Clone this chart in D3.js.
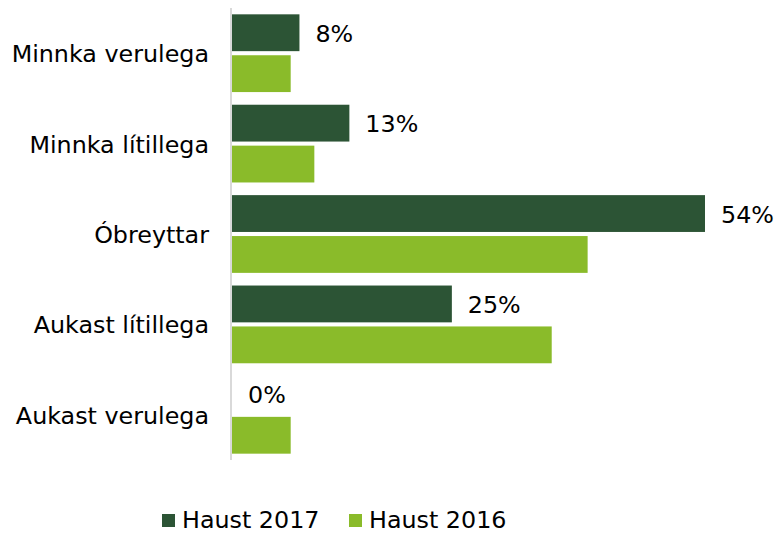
<!DOCTYPE html>
<html>
<head>
<meta charset="utf-8">
<script src="https://cdn.jsdelivr.net/npm/d3@7/dist/d3.min.js"></script>
<style>
  html, body { margin: 0; padding: 0; background: #fff; overflow: hidden; }
  svg { display: block; }
  text { font-family: "DejaVu Sans", Verdana, sans-serif; fill: #000; }
</style>
</head>
<body>
<svg id="chart" width="781" height="533"></svg>
<script>
const categories = ["Minnka verulega", "Minnka lítillega", "Óbreyttar", "Aukast lítillega", "Aukast verulega"];
const seriesNames = ["Haust 2017", "Haust 2016"];
const values2017 = [7.7, 13.4, 54, 25.1, 0];
const values2016 = [6.7, 9.4, 40.6, 36.5, 6.7];
const labels2017 = ["8%", "13%", "54%", "25%", "0%"];
const colors = ["#2c5435", "#8abb2a"];

const svg = d3.select("#chart");
const fontSize = 23.8;

const y = d3.scaleBand().domain(categories).range([8, 460]).paddingInner(0.14).paddingOuter(0.07);
const ySub = d3.scaleBand().domain(seriesNames).range([0, y.bandwidth()]).paddingInner(0.1);
const x = d3.scaleLinear().domain([0, 54]).range([232, 705]);

const seriesData = [values2017, values2016];

categories.forEach((c, i) => {
  seriesNames.forEach((s, j) => {
    const v = seriesData[j][i];
    if (v > 0) {
      svg.append("rect")
        .attr("x", x(0))
        .attr("y", y(c) + ySub(s))
        .attr("width", x(v) - x(0))
        .attr("height", ySub.bandwidth())
        .attr("fill", colors[j]);
    }
  });
  svg.append("text")
    .attr("x", x(values2017[i]) + 16)
    .attr("y", y(c) + ySub(seriesNames[0]) + ySub.bandwidth() / 2 + 1)
    .attr("dominant-baseline", "central")
    .attr("font-size", fontSize)
    .text(labels2017[i]);
});

const yAxis = d3.axisLeft(y).tickSize(0).tickPadding(22);
const gAxis = svg.append("g").attr("transform", `translate(${x(0) - 1},0)`).call(yAxis);
gAxis.select(".domain").attr("stroke", "#d9d9d9").attr("stroke-width", 2).attr("d", "M0,8V460");
gAxis.selectAll(".tick text")
  .attr("font-size", fontSize)
  .attr("font-family", '"DejaVu Sans", Verdana, sans-serif')
  .attr("fill", "#000")
  .attr("dy", null)
  .attr("y", 1)
  .attr("dominant-baseline", "central");

const legendX = [162, 349];
seriesNames.forEach((s, j) => {
  svg.append("rect")
    .attr("x", legendX[j]).attr("y", 514)
    .attr("width", 13).attr("height", 13)
    .attr("fill", colors[j]);
  svg.append("text")
    .attr("x", legendX[j] + 20).attr("y", 528)
    .attr("font-size", fontSize)
    .text(s);
});
</script>
</body>
</html>
